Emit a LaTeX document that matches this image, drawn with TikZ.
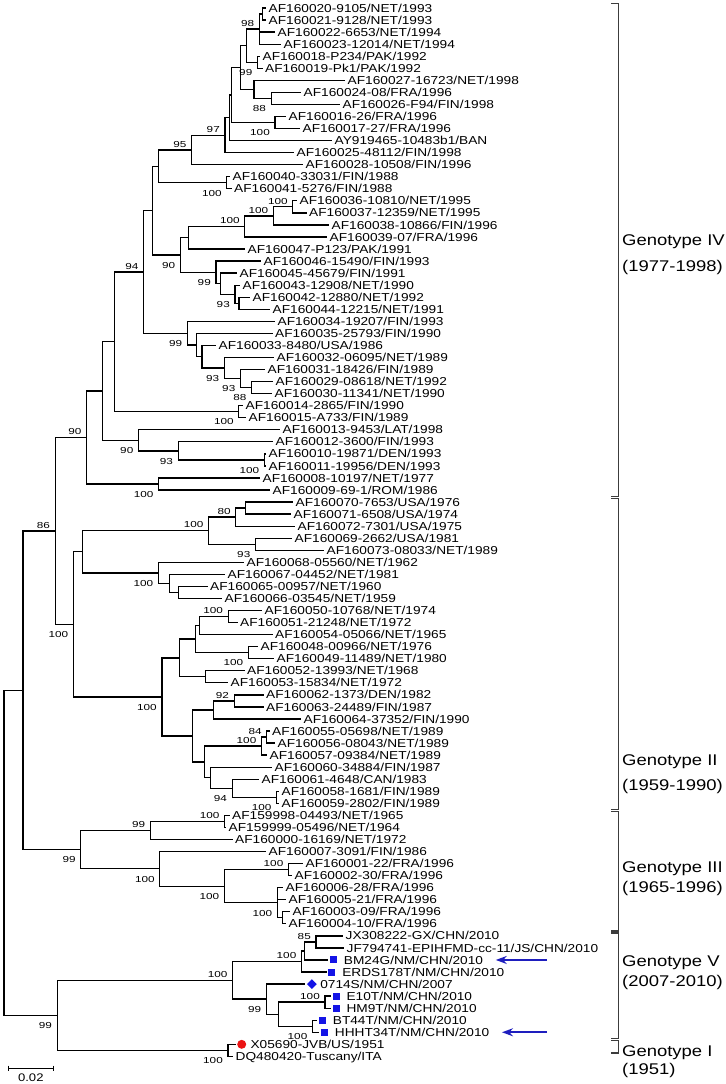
\documentclass[tikz,border=0pt]{standalone}
\usepackage{fontspec}
\setmainfont{Liberation Sans}[FakeStretch=1.19]
\newfontfamily\bootfamily{Liberation Sans}[FakeStretch=1.35]
\usetikzlibrary{arrows.meta, positioning, shapes.geometric}

\definecolor{markblue}{RGB}{20,20,230}
\definecolor{arrowblue}{RGB}{30,30,190}
\definecolor{markred}{RGB}{235,20,20}
\definecolor{bracketgray}{RGB}{60,60,60}
\newcommand{\leaffont}{\fontsize{11.5bp}{12bp}\selectfont}
\newcommand{\genofont}{\fontsize{15.5bp}{16bp}\selectfont}

\tikzset{
  branch/.style={line width=1.3bp},
  leaf/.style={anchor=west, inner xsep=2.5bp, inner ysep=0pt, text height=8.2bp, text depth=0pt, font=\leaffont},
  sup/.style={inner sep=0pt, text height=6.1bp, text depth=0pt, font=\bootfamily\fontsize{8.7bp}{9bp}\selectfont},
  supa/.style={sup, anchor=south east, xshift=-5bp, yshift=2.5bp},
  supb/.style={sup, anchor=north east, xshift=-5bp, yshift=-7bp},
  sqmark/.style={fill=markblue, minimum size=7bp, inner sep=0pt},
  dmmark/.style={diamond, fill=markblue, minimum size=10bp, inner sep=0pt},
  dotmark/.style={circle, fill=markred, minimum size=9bp, inner sep=0pt},
  marrow/.style={draw=arrowblue, line width=1.6bp, -{Stealth[length=11bp, width=8bp]}, shorten >=10bp},
  geno/.style={anchor=west, inner sep=0pt, text height=11.2bp, text depth=0pt, font=\genofont},
  bracket/.style={draw=bracketgray, line width=1.1bp}
}

\begin{document}
\begin{tikzpicture}[x=1bp, y=-1bp]
  \useasboundingbox (0,0) rectangle (726,1084);

  % tree: x in px, y in leaf rows
  \begin{scope}[yshift=-8bp, y=-12.05bp]
    % leaves
    \node[leaf] (l1) at (266,0) {AF160020-9105/NET/1993};
    \node[leaf] (l2) at (266,1) {AF160021-9128/NET/1993};
    \node[leaf] (l3) at (275,2) {AF160022-6653/NET/1994};
    \node[leaf] (l4) at (281,3) {AF160023-12014/NET/1994};
    \node[leaf] (l5) at (260,4) {AF160018-P234/PAK/1992};
    \node[leaf] (l6) at (262.5,5) {AF160019-Pk1/PAK/1992};
    \node[leaf] (l7) at (345,6) {AF160027-16723/NET/1998};
    \node[leaf] (l8) at (301,7) {AF160024-08/FRA/1996};
    \node[leaf] (l9) at (340,8) {AF160026-F94/FIN/1998};
    \node[leaf] (l10) at (286,9) {AF160016-26/FRA/1996};
    \node[leaf] (l11) at (300,10) {AF160017-27/FRA/1996};
    \node[leaf] (l12) at (332,11) {AY919465-10483b1/BAN};
    \node[leaf] (l13) at (294,12) {AF160025-48112/FIN/1998};
    \node[leaf] (l14) at (303,13) {AF160028-10508/FIN/1996};
    \node[leaf] (l15) at (230,14) {AF160040-33031/FIN/1988};
    \node[leaf] (l16) at (231.5,15) {AF160041-5276/FIN/1988};
    \node[leaf] (l17) at (297,16) {AF160036-10810/NET/1995};
    \node[leaf] (l18) at (306.5,17) {AF160037-12359/NET/1995};
    \node[leaf] (l19) at (329,18) {AF160038-10866/FIN/1996};
    \node[leaf] (l20) at (327,19) {AF160039-07/FRA/1996};
    \node[leaf] (l21) at (245,20) {AF160047-P123/PAK/1991};
    \node[leaf] (l22) at (261,21) {AF160046-15490/FIN/1993};
    \node[leaf] (l23) at (237,22) {AF160045-45679/FIN/1991};
    \node[leaf] (l24) at (240,23) {AF160043-12908/NET/1990};
    \node[leaf] (l25) at (250,24) {AF160042-12880/NET/1992};
    \node[leaf] (l26) at (270,25) {AF160044-12215/NET/1991};
    \node[leaf] (l27) at (275,26) {AF160034-19207/FIN/1993};
    \node[leaf] (l28) at (272.5,27) {AF160035-25793/FIN/1990};
    \node[leaf] (l29) at (216,28) {AF160033-8480/USA/1986};
    \node[leaf] (l30) at (274,29) {AF160032-06095/NET/1989};
    \node[leaf] (l31) at (265,30) {AF160031-18426/FIN/1989};
    \node[leaf] (l32) at (273,31) {AF160029-08618/NET/1992};
    \node[leaf] (l33) at (272,32) {AF160030-11341/NET/1990};
    \node[leaf] (l34) at (243,33) {AF160014-2865/FIN/1990};
    \node[leaf] (l35) at (246,34) {AF160015-A733/FIN/1989};
    \node[leaf] (l36) at (280,35) {AF160013-9453/LAT/1998};
    \node[leaf] (l37) at (273,36) {AF160012-3600/FIN/1993};
    \node[leaf] (l38) at (266,37) {AF160010-19871/DEN/1993};
    \node[leaf] (l39) at (266,38) {AF160011-19956/DEN/1993};
    \node[leaf] (l40) at (260,39) {AF160008-10197/NET/1977};
    \node[leaf] (l41) at (270,40) {AF160009-69-1/ROM/1986};
    \node[leaf] (l42) at (293,41) {AF160070-7653/USA/1976};
    \node[leaf] (l43) at (291,42) {AF160071-6508/USA/1974};
    \node[leaf] (l44) at (295,43) {AF160072-7301/USA/1975};
    \node[leaf] (l45) at (292,44) {AF160069-2662/USA/1981};
    \node[leaf] (l46) at (324,45) {AF160073-08033/NET/1989};
    \node[leaf] (l47) at (244,46) {AF160068-05560/NET/1962};
    \node[leaf] (l48) at (225,47) {AF160067-04452/NET/1981};
    \node[leaf] (l49) at (207.5,48) {AF160065-00957/NET/1960};
    \node[leaf] (l50) at (222,49) {AF160066-03545/NET/1959};
    \node[leaf] (l51) at (262,50) {AF160050-10768/NET/1974};
    \node[leaf] (l52) at (237.5,51) {AF160051-21248/NET/1972};
    \node[leaf] (l53) at (272.5,52) {AF160054-05066/NET/1965};
    \node[leaf] (l54) at (258,53) {AF160048-00966/NET/1976};
    \node[leaf] (l55) at (274,54) {AF160049-11489/NET/1980};
    \node[leaf] (l56) at (244.5,55) {AF160052-13993/NET/1968};
    \node[leaf] (l57) at (228,56) {AF160053-15834/NET/1972};
    \node[leaf] (l58) at (263.5,57) {AF160062-1373/DEN/1982};
    \node[leaf] (l59) at (263.5,58) {AF160063-24489/FIN/1987};
    \node[leaf] (l60) at (301,59) {AF160064-37352/FIN/1990};
    \node[leaf] (l61) at (269.5,60) {AF160055-05698/NET/1989};
    \node[leaf] (l62) at (275,61) {AF160056-08043/NET/1989};
    \node[leaf] (l63) at (267,62) {AF160057-09384/NET/1989};
    \node[leaf] (l64) at (272,63) {AF160060-34884/FIN/1987};
    \node[leaf] (l65) at (259,64) {AF160061-4648/CAN/1983};
    \node[leaf] (l66) at (279,65) {AF160058-1681/FIN/1989};
    \node[leaf] (l67) at (279,66) {AF160059-2802/FIN/1989};
    \node[leaf] (l68) at (229.5,67) {AF159998-04493/NET/1965};
    \node[leaf] (l69) at (226,68) {AF159999-05496/NET/1964};
    \node[leaf] (l70) at (232.5,69) {AF160000-16169/NET/1972};
    \node[leaf] (l71) at (266,70) {AF160007-3091/FIN/1986};
    \node[leaf] (l72) at (303,71) {AF160001-22/FRA/1996};
    \node[leaf] (l73) at (292,72) {AF160002-30/FRA/1996};
    \node[leaf] (l74) at (283,73) {AF160006-28/FRA/1996};
    \node[leaf] (l75) at (286,74) {AF160005-21/FRA/1996};
    \node[leaf] (l76) at (290,75) {AF160003-09/FRA/1996};
    \node[leaf] (l77) at (286,76) {AF160004-10/FRA/1996};
    \node[leaf] (l78) at (343,77) {JX308222-GX/CHN/2010};
    \node[leaf] (l79) at (344,78) {JF794741-EPIHFMD-cc-11/JS/CHN/2010};
    % marked leaves
    \coordinate (t80) at (328.3,79);
    \node[sqmark, right=1.5bp of t80] (m80) {};
    \node[leaf, right=4bp of m80] (l80) {BM24G/NM/CHN/2010};
    \coordinate (t81) at (326.7,80);
    \node[sqmark, right=1.5bp of t81] (m81) {};
    \node[leaf, right=4bp of m81] (l81) {ERDS178T/NM/CHN/2010};
    \coordinate (t82) at (305.2,81);
    \node[dmmark, right=1.5bp of t82] (m82) {};
    \node[leaf, right=0.5bp of m82] (l82) {0714S/NM/CHN/2007};
    \coordinate (t83) at (331,82);
    \node[sqmark, right=1.5bp of t83] (m83) {};
    \node[leaf, right=4bp of m83] (l83) {E10T/NM/CHN/2010};
    \coordinate (t84) at (331,83);
    \node[sqmark, right=1.5bp of t84] (m84) {};
    \node[leaf, right=4bp of m84] (l84) {HM9T/NM/CHN/2010};
    \coordinate (t85) at (317.3,84);
    \node[sqmark, right=1.5bp of t85] (m85) {};
    \node[leaf, right=4bp of m85] (l85) {BT44T/NM/CHN/2010};
    \coordinate (t86) at (319.3,85);
    \node[sqmark, right=1.5bp of t86] (m86) {};
    \node[leaf, right=4bp of m86] (l86) {HHHT34T/NM/CHN/2010};
    \coordinate (t87) at (235.5,86);
    \node[dotmark, right=1.5bp of t87] (m87) {};
    \node[leaf, right=1.5bp of m87] (l87) {X05690-JVB/US/1951};
    \node[leaf] (l88) at (233,87) {DQ480420-Tuscany/ITA};

    % internal nodes
    \coordinate (a) at (262.5,0.5);
    \coordinate (b) at (259.3,1.75);
    \coordinate (c) at (257.5,4.5);
    \coordinate (d) at (246.7,3.125);
    \coordinate (e) at (271.2,7.5);
    \coordinate (f) at (254,6.75);
    \coordinate (g) at (240.7,4.9375);
    \coordinate (h) at (275,9.5);
    \coordinate (i1) at (231.5,7.21875);
    \coordinate (i2) at (229.5,9.109);
    \coordinate (j) at (225,10.555);
    \coordinate (k) at (191.7,11.777);
    \coordinate (l) at (226.8,14.5);
    \coordinate (m) at (158.7,13.139);
    \coordinate (n) at (292.8,16.5);
    \coordinate (o) at (273.3,17.25);
    \coordinate (p) at (244.8,18.125);
    \coordinate (q) at (188.7,19.0625);
    \coordinate (u) at (239,24.5);
    \coordinate (v) at (235,23.75);
    \coordinate (w) at (220.7,22.875);
    \coordinate (x1) at (216,21.9375);
    \coordinate (y1) at (180.3,20.5);
    \coordinate (z) at (152.3,16.82);
    \coordinate (aa) at (251.7,31.5);
    \coordinate (ab) at (240.5,30.75);
    \coordinate (ac) at (224.3,29.875);
    \coordinate (ad) at (202,28.9375);
    \coordinate (ae) at (196.2,27.96875);
    \coordinate (af) at (187.4,26.984);
    \coordinate (ag) at (143.6,21.902);
    \coordinate (ah) at (238.8,33.5);
    \coordinate (ai) at (114.3,27.701);
    \coordinate (aj) at (264.3,37.5);
    \coordinate (ak) at (178.2,36.75);
    \coordinate (al) at (138.5,35.875);
    \coordinate (am) at (102.3,31.788);
    \coordinate (an) at (158.6,39.5);
    \coordinate (ao) at (86.6,35.644);
    \coordinate (ap) at (245.7,41.5);
    \coordinate (aq) at (235.8,42.25);
    \coordinate (ar) at (255.5,44.5);
    \coordinate (as) at (208.6,43.375);
    \coordinate (at) at (178.2,48.5);
    \coordinate (au) at (169.8,47.75);
    \coordinate (av) at (158.3,46.875);
    \coordinate (aw) at (82.6,45.125);
    \coordinate (ax) at (228.2,50.5);
    \coordinate (ay) at (199.3,51.25);
    \coordinate (az) at (248.3,53.5);
    \coordinate (ba) at (195.7,52.375);
    \coordinate (bb) at (205.2,55.5);
    \coordinate (bc) at (179.8,53.9375);
    \coordinate (bd) at (234.2,57.5);
    \coordinate (be) at (213.5,58.25);
    \coordinate (bf) at (266.8,60.5);
    \coordinate (bg) at (261.5,61.25);
    \coordinate (bh) at (276.7,65.5);
    \coordinate (bi) at (232.2,64.75);
    \coordinate (bj) at (210.3,63.875);
    \coordinate (bk) at (204.2,62.5625);
    \coordinate (bl) at (192.8,60.406);
    \coordinate (bm) at (161.9,57.172);
    \coordinate (bn) at (73.3,51.148);
    \coordinate (bo) at (55.2,43.396);
    \coordinate (bp) at (224.7,67.5);
    \coordinate (bq) at (150.4,68.25);
    \coordinate (br) at (288.5,71.5);
    \coordinate (bs) at (282.4,75.5);
    \coordinate (bt) at (277.3,74.25);
    \coordinate (bu) at (224.3,72.875);
    \coordinate (bv) at (159.8,71.4375);
    \coordinate (bw) at (80.8,69.84375);
    \coordinate (bx) at (23,56.62);
    \coordinate (by) at (316,77.5);
    \coordinate (bz) at (304.5,78.25);
    \coordinate (ca) at (301.5,79.125);
    \coordinate (cb) at (325,82.5);
    \coordinate (cc) at (312.5,84.5);
    \coordinate (cd) at (278.5,83.5);
    \coordinate (ce) at (266.3,82.25);
    \coordinate (cf) at (232.6,80.6875);
    \coordinate (cg) at (228,86.5);
    \coordinate (ch) at (57.2,83.594);
    \coordinate (root) at (4,70.107);

    % branches
    \draw[branch]
      (a) |- (l1.west) (a) |- (l2.west)
      (b) |- (a) (b) |- (l3.west) (b) |- (l4.west)
      (c) |- (l5.west) (c) |- (l6.west)
      (d) |- (b) (d) |- (c)
      (e) |- (l8.west) (e) |- (l9.west)
      (f) |- (l7.west) (f) |- (e)
      (g) |- (d) (g) |- (f)
      (h) |- (l10.west) (h) |- (l11.west)
      (i1) |- (g) (i1) |- (h)
      (i2) |- (i1) (i2) |- (l12.west)
      (j) |- (i2) (j) |- (l13.west)
      (k) |- (j) (k) |- (l14.west)
      (l) |- (l15.west) (l) |- (l16.west)
      (m) |- (k) (m) |- (l)
      (n) |- (l17.west) (n) |- (l18.west)
      (o) |- (n) (o) |- (l19.west)
      (p) |- (o) (p) |- (l20.west)
      (q) |- (p) (q) |- (l21.west)
      (u) |- (l25.west) (u) |- (l26.west)
      (v) |- (l24.west) (v) |- (u)
      (w) |- (l23.west) (w) |- (v)
      (x1) |- (l22.west) (x1) |- (w)
      (y1) |- (q) (y1) |- (x1)
      (z) |- (m) (z) |- (y1)
      (aa) |- (l32.west) (aa) |- (l33.west)
      (ab) |- (l31.west) (ab) |- (aa)
      (ac) |- (l30.west) (ac) |- (ab)
      (ad) |- (l29.west) (ad) |- (ac)
      (ae) |- (l28.west) (ae) |- (ad)
      (af) |- (l27.west) (af) |- (ae)
      (ag) |- (z) (ag) |- (af)
      (ah) |- (l34.west) (ah) |- (l35.west)
      (ai) |- (ag) (ai) |- (ah)
      (aj) |- (l38.west) (aj) |- (l39.west)
      (ak) |- (l37.west) (ak) |- (aj)
      (al) |- (l36.west) (al) |- (ak)
      (am) |- (ai) (am) |- (al)
      (an) |- (l40.west) (an) |- (l41.west)
      (ao) |- (am) (ao) |- (an)
      (ap) |- (l42.west) (ap) |- (l43.west)
      (aq) |- (ap) (aq) |- (l44.west)
      (ar) |- (l45.west) (ar) |- (l46.west)
      (as) |- (aq) (as) |- (ar)
      (at) |- (l49.west) (at) |- (l50.west)
      (au) |- (l48.west) (au) |- (at)
      (av) |- (l47.west) (av) |- (au)
      (aw) |- (as) (aw) |- (av)
      (ax) |- (l51.west) (ax) |- (l52.west)
      (ay) |- (ax) (ay) |- (l53.west)
      (az) |- (l54.west) (az) |- (l55.west)
      (ba) |- (ay) (ba) |- (az)
      (bb) |- (l56.west) (bb) |- (l57.west)
      (bc) |- (ba) (bc) |- (bb)
      (bd) |- (l58.west) (bd) |- (l59.west)
      (be) |- (bd) (be) |- (l60.west)
      (bf) |- (l61.west) (bf) |- (l62.west)
      (bg) |- (bf) (bg) |- (l63.west)
      (bh) |- (l66.west) (bh) |- (l67.west)
      (bi) |- (l65.west) (bi) |- (bh)
      (bj) |- (l64.west) (bj) |- (bi)
      (bk) |- (bg) (bk) |- (bj)
      (bl) |- (be) (bl) |- (bk)
      (bm) |- (bc) (bm) |- (bl)
      (bn) |- (aw) (bn) |- (bm)
      (bo) |- (ao) (bo) |- (bn)
      (bp) |- (l68.west) (bp) |- (l69.west)
      (bq) |- (bp) (bq) |- (l70.west)
      (br) |- (l72.west) (br) |- (l73.west)
      (bs) |- (l76.west) (bs) |- (l77.west)
      (bt) |- (l74.west) (bt) |- (l75.west) (bt) |- (bs)
      (bu) |- (br) (bu) |- (bt)
      (bv) |- (l71.west) (bv) |- (bu)
      (bw) |- (bq) (bw) |- (bv)
      (bx) |- (bo) (bx) |- (bw)
      (by) |- (l78.west) (by) |- (l79.west)
      (bz) |- (by) (bz) |- (t80)
      (ca) |- (bz) (ca) |- (t81)
      (cb) |- (t83) (cb) |- (t84)
      (cc) |- (t85) (cc) |- (t86)
      (cd) |- (cb) (cd) |- (cc)
      (ce) |- (t82) (ce) |- (cd)
      (cf) |- (ca) (cf) |- (ce)
      (cg) |- (t87) (cg) |- (l88.west)
      (ch) |- (cf) (ch) |- (cg)
      (root) |- (bx) (root) |- (ch);

    % bootstrap values
    \node[supa] (sup-b) at (b) {98};
    \node[supb] (sup-c) at (c) {99};
    \node[supb] (sup-e) at (e) {88};
    \node[supb] (sup-h) at (h) {100};
    \node[supa] (sup-j) at (j) {97};
    \node[supa] (sup-k) at (k) {95};
    \node[supb] (sup-l) at (l) {100};
    \node[supa] (sup-n) at (n) {100};
    \node[supa] (sup-o) at (o) {100};
    \node[supa] (sup-p) at (p) {100};
    \node[supb] (sup-v) at (v) {93};
    \node[supb] (sup-x1) at (x1) {99};
    \node[supb] (sup-y1) at (y1) {90};
    \node[supa] (sup-ag) at (ag) {94};
    \node[supb] (sup-aa) at (aa) {88};
    \node[supb] (sup-ab) at (ab) {93};
    \node[supb] (sup-ac) at (ac) {93};
    \node[supb] (sup-af) at (af) {99};
    \node[supb] (sup-ah) at (ah) {100};
    \node[supb] (sup-aj) at (aj) {100};
    \node[supb] (sup-ak) at (ak) {93};
    \node[supb] (sup-al) at (al) {90};
    \node[supb] (sup-an) at (an) {100};
    \node[supa] (sup-ao) at (ao) {90};
    \node[supa] (sup-aq) at (aq) {80};
    \node[supb] (sup-ar) at (ar) {93};
    \node[supa] (sup-as) at (as) {100};
    \node[supb] (sup-av) at (av) {100};
    \node[supa] (sup-ax) at (ax) {100};
    \node[supb] (sup-az) at (az) {100};
    \node[supa] (sup-bd) at (bd) {92};
    \node[supa] (sup-bf) at (bf) {84};
    \node[supa] (sup-bg) at (bg) {100};
    \node[supb] (sup-bh) at (bh) {100};
    \node[supb] (sup-bi) at (bi) {94};
    \node[supb] (sup-bm) at (bm) {100};
    \node[supb] (sup-bn) at (bn) {100};
    \node[supa] (sup-bo) at (bo) {86};
    \node[supa] (sup-bp) at (bp) {100};
    \node[supa] (sup-bq) at (bq) {99};
    \node[supa] (sup-br) at (br) {100};
    \node[supb] (sup-bt) at (bt) {100};
    \node[supb] (sup-bu) at (bu) {100};
    \node[supb] (sup-bv) at (bv) {100};
    \node[supb] (sup-bw) at (bw) {99};
    \node[supa] (sup-by) at (by) {85};
    \node[supa] (sup-ca) at (ca) {100};
    \node[supa] (sup-cb) at (cb) {100};
    \node[supb] (sup-cc) at (cc) {100};
    \node[supb] (sup-ce) at (ce) {99};
    \node[supa] (sup-cf) at (cf) {100};
    \node[supb] (sup-cg) at (cg) {100};
    \node[supb] (sup-ch) at (ch) {99};

    % arrows to the new strains
    \coordinate (arw1) at (547,79);
    \coordinate (arw2) at (547,85);
    \draw[marrow] (arw1) -- (l80);
    \draw[marrow] (arw2) -- (l86);
  \end{scope}

  % genotype brackets
  \draw[bracket] (611,3.4) -- (618.6,3.4) -- (618.6,496.6) -- (611,496.6);
  \draw[bracket] (611,498.6) -- (618.6,498.6) -- (618.6,809.6) -- (611,809.6);
  \draw[bracket] (611,811.6) -- (618.6,811.6) -- (618.6,931) -- (611,931);
  \draw[bracket] (611,933) -- (618.6,933) -- (618.6,1038.6) -- (611,1038.6);
  \draw[bracket] (611,1040.6) -- (618.6,1040.6) -- (618.6,1053) -- (611,1053);

  \node[geno] (g4) at (622,240) {Genotype IV};
  \node[geno] (g4y) at (622,266) {(1977-1998)};
  \node[geno] (g2) at (622,760) {Genotype II};
  \node[geno] (g2y) at (622,785) {(1959-1990)};
  \node[geno] (g3) at (622,867) {Genotype III};
  \node[geno] (g3y) at (622,887) {(1965-1996)};
  \node[geno] (g5) at (622,961) {Genotype V};
  \node[geno] (g5y) at (622,981) {(2007-2010)};
  \node[geno] (g1) at (622,1051) {Genotype I};
  \node[geno] (g1y) at (622,1069) {(1951)};

  % scale bar
  \coordinate (sbl) at (8.3,1068.3);
  \coordinate (sbr) at (53.3,1068.3);
  \draw[branch] (sbl) -- (sbr)
    ([yshift=2.7bp]sbl) -- ([yshift=-2.7bp]sbl)
    ([yshift=2.7bp]sbr) -- ([yshift=-2.7bp]sbr);
  \node[inner sep=0pt, text height=8bp, text depth=0pt, font=\fontsize{11bp}{12bp}\selectfont] (sbt) at (30.8,1077.3) {0.02};
\end{tikzpicture}
\end{document}
